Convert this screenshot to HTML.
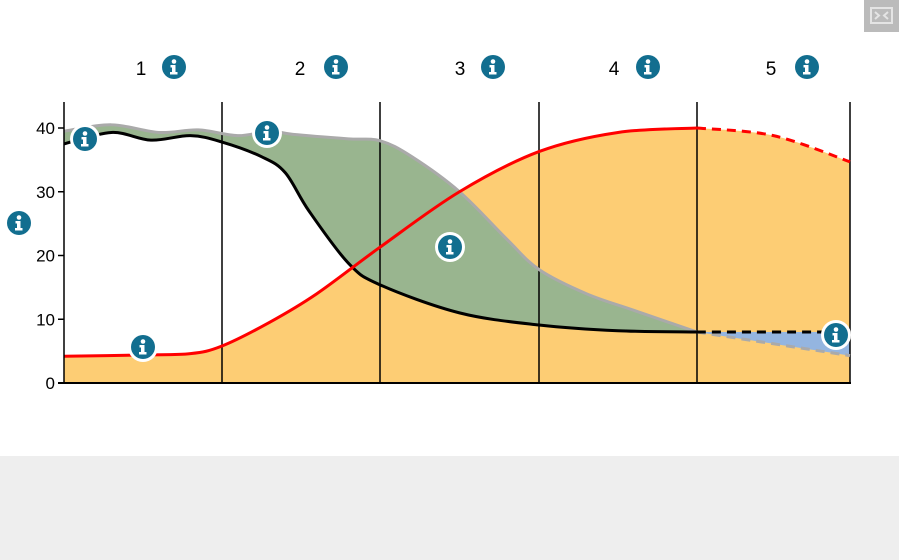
<!DOCTYPE html>
<html><head><meta charset="utf-8"><style>
html,body{margin:0;padding:0;width:899px;height:560px;overflow:hidden;background:#fff;font-family:"Liberation Sans",sans-serif}
#bottom{position:absolute;left:0;top:456px;width:899px;height:104px;background:#eeeeee}
#fs{position:absolute;left:864px;top:0;width:35px;height:32px;background:#bbbbbb}
</style></head><body>
<div id="bottom"></div>
<div id="fs"><svg width="35" height="32"><rect x="7" y="8" width="21" height="15" fill="none" stroke="#e4e4e4" stroke-width="2"/><path d="M11 12l4 3.5-4 3.5M24 12l-4 3.5 4 3.5" stroke="#e4e4e4" stroke-width="2" fill="none"/></svg></div>
<svg id="chart" width="899" height="456" style="position:absolute;left:0;top:0"></svg>
<script>
const stages=["1","2","3","4","5"];
const yTicks=[0,10,20,30,40];
const redT=[0,0.5,0.8,1.0,1.3,1.6,2.0,2.5,3.0,3.5,4.0];
const redV=[4.2,4.4,4.6,5.8,9.5,14,21.3,30,36.3,39.3,40];
const redDashT=[4.0,4.5,5.0];
const redDashV=[40,38.8,34.7];
const blackT=[0,0.3,0.55,0.8,1.0,1.25,1.4,1.55,1.8,2.0,2.5,3.0,3.5,4.0];
const blackV=[37.5,39.3,38.1,38.8,37.8,35.5,33,27,18.8,15.4,11,9.1,8.2,8];
const blackDashT=[4.0,5.0];
const blackDashV=[8,8];
const grayT=[0,0.3,0.6,0.85,1.1,1.3,1.45,1.8,2.0,2.2,2.5,2.8,3.0,3.3,3.6,4.0];
const grayV=[39.5,40.5,39.3,39.7,38.8,39.5,39.0,38.3,38,35.5,30,22.5,17.8,14,11.4,8];
const grayDashT=[4.0,5.0];
const grayDashV=[8,4.3];

const bounds=[64,222,380,539,697,850];
const X=t=>{const i=Math.min(4,Math.floor(t));return bounds[i]+(t-i)*(bounds[i+1]-bounds[i]);}, Y=v=>383-v*6.375;
const svg=document.getElementById('chart');
const NS='http://www.w3.org/2000/svg';
function mk(tag,at){const e=document.createElementNS(NS,tag);for(const k in at)e.setAttribute(k,at[k]);svg.appendChild(e);return e;}
function pts(T,V){return T.map((t,i)=>[X(t),Y(V[i])]);}
function cr(p,move=true){let d=move?`M${p[0][0]},${p[0][1]}`:`L${p[0][0]},${p[0][1]}`;
 for(let i=0;i<p.length-1;i++){const p0=p[i-1]||p[i],p1=p[i],p2=p[i+1],p3=p[i+2]||p2;
 d+=`C${p1[0]+(p2[0]-p0[0])/6},${p1[1]+(p2[1]-p0[1])/6} ${p2[0]-(p3[0]-p1[0])/6},${p2[1]-(p3[1]-p1[1])/6} ${p2[0]},${p2[1]}`;}return d;}
const rP=pts(redT,redV), rD=pts(redDashT,redDashV), bP=pts(blackT,blackV), bD=pts(blackDashT,blackDashV), gP=pts(grayT,grayV), gD=pts(grayDashT,grayDashV);
let e;
e=mk('path',{d:cr(rP)+cr(rD,false).replace(/^L[^C]*/,'')+`L${X(5)},${Y(0)}L${X(0)},${Y(0)}Z`,fill:'#fdcd74'});

e=mk('path',{d:cr(gP)+'L'+cr(bP.slice().reverse()).slice(1)+'Z',fill:'#99b58f'});

e=mk('path',{d:cr(bD)+'L'+cr(gD.slice().reverse()).slice(1)+'Z',fill:'#94b5e0'});

for(let i=1;i<=5;i++){e=mk('line',{x1:X(i),x2:X(i),y1:102,y2:383,stroke:'#000','stroke-width':1.5});
}
e=mk('path',{d:cr(gP),fill:'none',stroke:'#aaa','stroke-width':3});

e=mk('path',{d:cr(gD),fill:'none',stroke:'#aaa','stroke-width':3,'stroke-dasharray':'9,6'});

e=mk('path',{d:cr(bP),fill:'none',stroke:'#000','stroke-width':3});

e=mk('path',{d:cr(bD),fill:'none',stroke:'#000','stroke-width':3,'stroke-dasharray':'9,6'});

e=mk('path',{d:cr(rP),fill:'none',stroke:'#f00','stroke-width':3});

e=mk('path',{d:cr(rD),fill:'none',stroke:'#f00','stroke-width':3,'stroke-dasharray':'9,6'});

e=mk('line',{x1:64,x2:64,y1:102,y2:383,stroke:'#000','stroke-width':1.5});

e=mk('line',{x1:58,x2:851,y1:383,y2:383,stroke:'#000','stroke-width':2});

yTicks.forEach(v=>{e=mk('line',{x1:58,x2:64,y1:Y(v),y2:Y(v),stroke:'#000','stroke-width':1.5});

e=mk('text',{x:55,y:Y(v)+6,'text-anchor':'end','font-size':17,fill:'#000'});e.textContent=v;
});
function info(x,y,border){const g=document.createElementNS(NS,'g');svg.appendChild(g);

g.innerHTML=(border?`<circle cx="${x}" cy="${y}" r="15" fill="#fff"/>`:'')+`<circle cx="${x}" cy="${y}" r="12" fill="#126e8f"/><circle cx="${x}" cy="${y-5.5}" r="2.3" fill="#fff"/><path d="M${x-3.5},${y-2}h5v7h2v2.5h-7.5v-2.5h2v-4.5h-1.5z" fill="#fff"/>`;}
const sx=[141,300,460,614,771], ix=[174,336,493,648,807];
stages.forEach((s,i)=>{e=mk('text',{x:sx[i],y:75,'text-anchor':'middle','font-size':19,fill:'#000'});e.textContent=s;
info(ix[i],67,false);});
info(19,223,false);
info(85,139,true);info(267,133,true);info(450,247,true);info(143,347,true);info(836,335,true);
</script>
</body></html>
